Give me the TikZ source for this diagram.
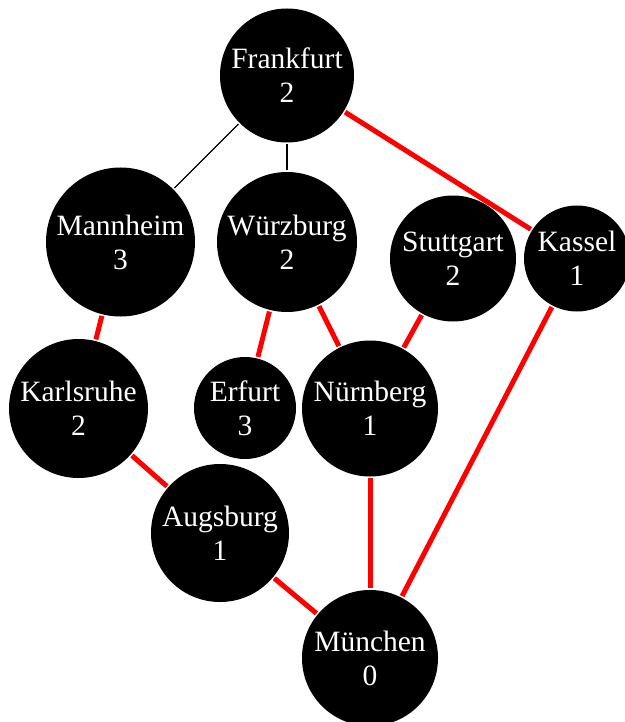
\documentclass[tikz,border=0pt]{standalone}
\usepackage{fontspec}
\setmainfont{Liberation Serif}
\begin{document}
\begin{tikzpicture}[x=1pt,y=-1pt,
  city/.style={circle,fill=black,text=white,inner sep=0pt,align=center,
    font=\fontsize{29.5}{34}\selectfont,minimum size=#1},
  plain/.style={black,line width=1.3pt,shorten <=1.5pt,shorten >=1.5pt},
  path/.style={red,line width=5pt,shorten <=1.5pt,shorten >=1.5pt}]
\useasboundingbox (0,0) rectangle (624,722);
\node[city=134pt] (fra) at (287,75.5) {Frankfurt\\2};
\node[city=149pt] (man) at (120.5,242) {Mannheim\\3};
\node[city=140pt] (wue) at (287,242) {Würzburg\\2};
\node[city=126pt] (stu) at (453,258.5) {Stuttgart\\2};
\node[city=106pt] (kas) at (577,258.5) {Kassel\\1};
\node[city=139pt] (kar) at (78.5,408.5) {Karlsruhe\\2};
\node[city=102pt] (erf) at (245,408) {Erfurt\\3};
\node[city=136pt] (nue) at (370,408.5) {Nürnberg\\1};
\node[city=138pt] (aug) at (220,533) {Augsburg\\1};
\node[city=136pt] (mue) at (370,658) {München\\0};
\draw[plain] (fra) -- (man);
\draw[plain] (fra) -- (wue);
\draw[path] (fra) -- (kas);
\draw[path] (man) -- (kar);
\draw[path] (wue) -- (erf);
\draw[path] (wue) -- (nue);
\draw[path] (stu) -- (nue);
\draw[path] (kar) -- (aug);
\draw[path] (nue) -- (mue);
\draw[path] (kas) -- (mue);
\draw[path] (aug) -- (mue);
\end{tikzpicture}
\end{document}
